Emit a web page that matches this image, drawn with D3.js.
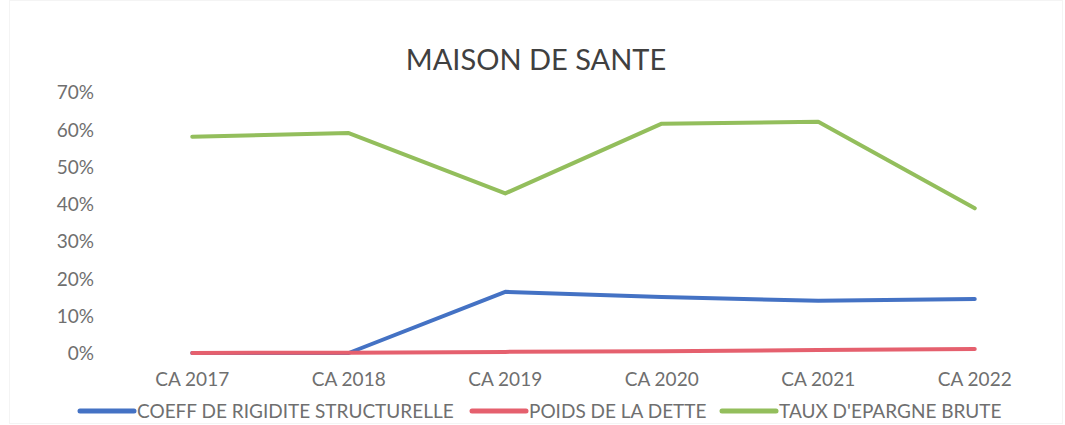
<!DOCTYPE html>
<html>
<head>
<meta charset="utf-8">
<script src="https://cdn.jsdelivr.net/npm/d3@7"></script>
<style>
  body { margin: 0; background: #fff; }
  text { font-family: Lato, "Open Sans", sans-serif; fill: #6f6f6f; }
</style>
</head>
<body>
<div class="chart"></div>
<script>
// chart data
var categories = ["CA 2017", "CA 2018", "CA 2019", "CA 2020", "CA 2021", "CA 2022"];
var coeffRigidite = [0, 0, 16.4, 15.0, 14.0, 14.5];
var poidsDette = [0, 0.1, 0.3, 0.5, 0.8, 1.1];
var tauxEpargne = [58, 59, 42.8, 61.5, 62, 38.8];
var yTicks = [0, 10, 20, 30, 40, 50, 60, 70];

var seriesNames = ["COEFF DE RIGIDITE STRUCTURELLE", "POIDS DE LA DETTE", "TAUX D'EPARGNE BRUTE"];
var seriesColors = ["#4472C4", "#E5606E", "#93BE5C"];
var seriesValues = [coeffRigidite, poidsDette, tauxEpargne];

// plot dimensions
var svgWidth = 1065;
var svgHeight = 425;

var margin = { top: 92, right: 12, bottom: 72, left: 114 };
var width = svgWidth - margin.left - margin.right;
var height = svgHeight - margin.top - margin.bottom;

var svg = d3.select(".chart")
  .append("svg")
  .attr("width", svgWidth)
  .attr("height", svgHeight);

// faint chart border
svg.append("rect")
  .attr("x", 9.5).attr("y", 0.5)
  .attr("width", svgWidth - 12).attr("height", svgHeight - 2)
  .attr("fill", "none")
  .attr("stroke", "#f4f4f4");

var chartGroup = svg.append("g")
  .attr("transform", `translate(${margin.left}, ${margin.top})`);

var xScale = d3.scaleBand()
  .domain(categories)
  .range([0, width]);

var yScale = d3.scaleLinear()
  .domain([0, 70])
  .range([height, 0]);

// title
svg.append("text")
  .attr("x", 536)
  .attr("y", 70)
  .attr("text-anchor", "middle")
  .style("font-size", "29px")
  .style("fill", "#404040")
  .text("MAISON DE SANTE");

// y axis
var leftAxis = d3.axisLeft(yScale)
  .tickValues(yTicks)
  .tickSize(0)
  .tickPadding(20)
  .tickFormat(d => d + "%");

var yAxis = chartGroup.append("g")
  .call(leftAxis);
yAxis.select(".domain").remove();
yAxis.selectAll("text")
  .style("font-size", "19px")
  .attr("dy", "0.36em");

// x axis
var bottomAxis = d3.axisBottom(xScale)
  .tickSize(0)
  .tickPadding(20);

var xAxis = chartGroup.append("g")
  .attr("transform", `translate(0, ${height})`)
  .call(bottomAxis);
xAxis.select(".domain").remove();
xAxis.selectAll("text")
  .style("font-size", "19px");

// lines
var line = d3.line()
  .x((d, i) => xScale(categories[i]) + xScale.bandwidth() / 2)
  .y(d => yScale(d));

seriesValues.forEach((vals, k) => {
  chartGroup.append("path")
    .datum(vals)
    .attr("d", line)
    .attr("fill", "none")
    .attr("stroke", seriesColors[k])
    .attr("stroke-width", 4)
    .attr("stroke-linejoin", "round")
    .attr("stroke-linecap", "round");
});

// legend
var legendX = [80, 472, 722];
var legend = svg.append("g");
seriesNames.forEach((name, k) => {
  legend.append("line")
    .attr("x1", legendX[k]).attr("x2", legendX[k] + 54)
    .attr("y1", 411).attr("y2", 411)
    .attr("stroke", seriesColors[k])
    .attr("stroke-width", 5)
    .attr("stroke-linecap", "round");
  legend.append("text")
    .attr("x", legendX[k] + 57)
    .attr("y", 418)
    .style("font-size", "19px")
    .text(name);
});
</script>
</body>
</html>
